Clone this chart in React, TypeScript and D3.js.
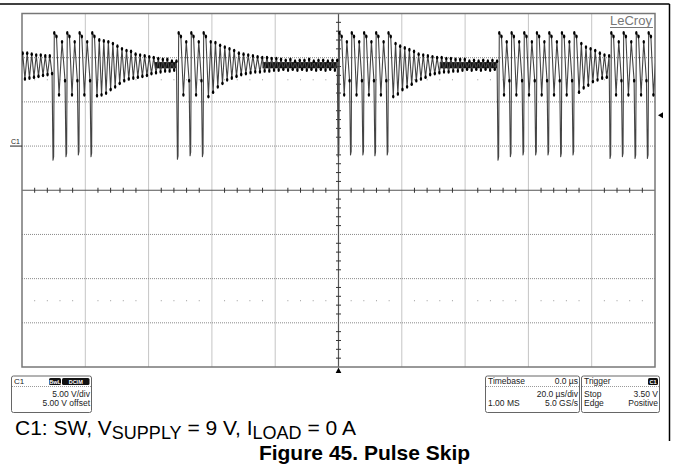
import React from "react";
import * as d3 from "d3";

const W = 673;
const H = 471;

// 10 div x 20 us/div, trigger (0 us) at screen centre
const timeDomain = [-100, 100];
// 8 div x 5 V/div, 5 V offset (ground one division above centre)
const voltDomain = [-25, 15];
const timeMajor = d3.range(-100, 101, 20);
const voltMajor = d3.range(-25, 16, 5);
const triggerLevel = 3.5;

// switching pulses (us), grouped in bursts
const burst1 = [-90.2, -86.1, -82.2, -78.2];
const burst2 = [-50.9, -46.9, -43.0];
const burst3 = [-0.1, 3.8, 7.7, 11.5, 15.4];
const burst4 = [50.4, 54.3, 58.3, 62.3, 66.2, 70.2, 74.1];
const burst5 = [85.8, 89.7, 93.7, 97.6];
// lowest value of each switching spike (V)
const low1 = [-1.6, -1.2, -1.0, -1.2];
const low2 = [-1.5, -1.1, -1.2];
const low3 = [-1.2, -1.0, -1.0, -1.1, -1.0];
const low4 = [-1.6, -1.2, -1.0, -1.0, -1.0, -1.2, -1.0];
const low5 = [-1.4, -1.2, -1.4, -1.4];
const pulseTop = 12.8;

// ringing between two pulses of a burst (dip, peak, dip) in V
const burstRing = [5.8, 11.8, 7.4];
// ringing extremes (V) before the first burst
const leadRing = [7.5, 10.5, 7.6, 10.5, 7.7, 10.4, 7.8, 10.3, 7.9, 10.3, 8.0, 10.2, 8.1, 10.2, 8.2];
// ringing extremes (V) after the last pulse of each burst
const tail1 = [5.7, 12.0, 5.8, 11.9, 6.0, 11.8, 6.4, 11.6, 6.7, 11.3, 7.1, 11.0, 7.4, 10.8, 7.6, 10.7, 7.7, 10.4, 7.8, 10.3, 7.9, 10.2, 8.0, 10.1, 8.2, 10.0, 8.3, 9.9, 8.4, 9.8, 8.5, 9.8, 8.5, 9.6, 8.6, 9.6];
const tail2 = [5.6, 11.8, 6.1, 11.7, 6.7, 11.4, 7.1, 11.2, 7.5, 11.0, 7.7, 10.8, 7.9, 10.5, 8.1, 10.4, 8.2, 10.3, 8.3, 10.2, 8.4, 10.1, 8.4, 10.0, 8.5, 10.0, 8.5, 9.9, 8.6, 9.9, 8.6, 9.8, 8.7, 9.7, 8.6, 9.8, 8.7, 9.6, 8.6, 9.7, 8.7, 9.7, 8.6, 9.8, 8.7, 9.6, 8.6, 9.7, 8.7, 9.7, 8.6, 9.6, 8.7, 9.7, 8.6, 9.7];
const tail3 = [5.6, 11.6, 5.9, 11.3, 6.4, 11.1, 6.7, 10.9, 7.0, 10.7, 7.4, 10.4, 7.6, 10.3, 7.8, 10.2, 8.1, 10.1, 8.2, 10.0, 8.3, 10.0, 8.4, 9.9, 8.4, 9.9, 8.5, 9.8, 8.5, 9.8, 8.6, 9.8, 8.7, 9.6, 8.6, 9.7, 8.7, 9.6, 8.6, 9.7, 8.7, 9.6, 8.6, 9.7, 8.7, 9.6];
const tail4 = [6.1, 11.6, 6.6, 11.2, 6.9, 11.0, 7.3, 10.8, 7.5, 10.5, 7.7, 10.3, 7.8, 10.2];
const tail5 = [5.8, 11.8, 7.0];

// idle stretches where fast noise fills a solid band (us, V)
const idleStart = [-58, -24, 32];
const idleEnd = [-51.2, -0.4, 50.1];
const idleLow = [8.8, 8.8, 8.8];
const idleHigh = [9.5, 9.5, 9.5];

const bursts = [burst1, burst2, burst3, burst4, burst5];
const lows = [low1, low2, low3, low4, low5];
const tails = [tail1, tail2, tail3, tail4, tail5];

const x = d3.scaleLinear().domain(timeDomain).range([22, 655]);
const y = d3.scaleLinear().domain(voltDomain).range([367, 13.5]);

type Pt = [number, number, boolean];

function buildTrace(): Pt[] {
  const pts: Pt[] = [];
  const pushRing = (vals: number[], t0: number, t1: number) => {
    const step = vals.length > 1 ? (t1 - t0) / (vals.length - 1) : 0;
    vals.forEach((v, k) => pts.push([t0 + k * step, v, true]));
  };
  pushRing(leadRing, timeDomain[0] - 0.5, burst1[0] - 0.3);
  bursts.forEach((b, bi) => {
    b.forEach((tp, i) => {
      const lo = lows[bi][i];
      pts.push([tp, lo, false]);
      pts.push([tp + 0.2, lo + 0.4, false]);
      pts.push([tp + 0.4, pulseTop, true]);
      pts.push([tp + 1.1, pulseTop - 0.4, true]);
      const last = i === b.length - 1;
      const next = last ? (bi < bursts.length - 1 ? bursts[bi + 1][0] : timeDomain[1] + 2) : b[i + 1];
      pushRing(last ? tails[bi] : burstRing, tp + 1.9, next - 0.3);
    });
  });
  return pts;
}

const font = "Arial, 'Liberation Sans', sans-serif";

export default function App() {
  const trace = buildTrace();
  const line = d3.line<Pt>().x((d) => x(d[0])).y((d) => y(d[1]));
  const [x0, x1] = x.range();
  const [y0, y1] = [y(voltDomain[1]), y(voltDomain[0])];
  const cx = x(0);
  const cy = y(-5);
  const minorT = d3.range(-100, 101, 4).filter((t) => t % 20 !== 0);
  const minorV = d3.range(-25, 16, 1).filter((v) => (v + 25) % 5 !== 0);
  const dotRows = [7.5, -17.5];
  const grey = "#8a8a8a";
  const gx = y(triggerLevel);

  return (
    <svg width={W} height={H} style={{ position: "absolute", left: 0, top: 0, background: "#fff" }} fontFamily={font}>
      <rect width={W} height={H} fill="#fff" />
      {/* figure frame */}
      <line x1={0} x2={669.5} y1={4} y2={4} stroke="#000" strokeWidth={1.5} />
      <line x1={669.5} x2={669.5} y1={4} y2={441} stroke="#000" strokeWidth={1.5} />

      <defs>
        <clipPath id="plot">
          <rect x={x0} y={y0} width={x1 - x0} height={y1 - y0} />
        </clipPath>
      </defs>

      {/* grid */}
      {timeMajor.slice(1, -1).filter((t) => t !== 0).map((t) => (
        <line key={"gx" + t} x1={x(t)} x2={x(t)} y1={y0} y2={y1} stroke={grey} strokeDasharray="1,1" />
      ))}
      {voltMajor.slice(1, -1).filter((v) => v !== -5).map((v) => (
        <line key={"gy" + v} x1={x0} x2={x1} y1={y(v)} y2={y(v)} stroke={grey} strokeDasharray="1,1" />
      ))}
      {dotRows.map((v) =>
        minorT.map((t) => <rect key={"d" + v + t} x={x(t) - 0.5} y={y(v) - 0.5} width={1} height={1} fill="#999" />)
      )}
      {/* centre axes with minor ticks */}
      <line x1={x0} x2={x1} y1={cy} y2={cy} stroke="#555" strokeWidth={1.2} />
      <line x1={cx} x2={cx} y1={y0} y2={y1} stroke="#555" strokeWidth={1.2} />
      {minorT.map((t) => (
        <line key={"tt" + t} x1={x(t)} x2={x(t)} y1={cy - 2.5} y2={cy + 2.5} stroke="#333" strokeWidth={1} />
      ))}
      {minorV.map((v) => (
        <line key={"tv" + v} x1={cx - 2.5} x2={cx + 2.5} y1={y(v)} y2={y(v)} stroke="#333" strokeWidth={1} />
      ))}
      <rect x={x0} y={y0} width={x1 - x0} height={y1 - y0} fill="none" stroke="#777" strokeWidth={1.5} />

      {/* trace */}
      <g clipPath="url(#plot)">
        {idleStart.map((t0, i) => (
          <rect key={"idle" + i} x={x(t0)} y={y(idleHigh[i])} width={x(idleEnd[i]) - x(t0)}
            height={y(idleLow[i]) - y(idleHigh[i])} fill="#111" />
        ))}
        <path d={line(trace) || ""} fill="none" stroke="#444" strokeWidth={1.1} strokeLinejoin="round" />
        {trace.filter((d) => d[2]).map((d, i) => (
          <ellipse key={"b" + i} cx={x(d[0])} cy={y(d[1])} rx={1.2} ry={1.9} fill="#000" />
        ))}
      </g>

      {/* LeCroy */}
      <text x={610} y={25} fontSize={13} fill="#777">LeCroy</text>
      <line x1={610} x2={653} y1={27.5} y2={27.5} stroke="#777" strokeWidth={1} />

      {/* channel ground marker */}
      <text x={11} y={y(0) - 2} fontSize={7} fill="#222">C1</text>
      <line x1={10} x2={x0} y1={y(0)} y2={y(0)} stroke="#222" strokeWidth={1} />

      {/* trigger level & position markers */}
      <path d={`M${x1 + 3},${gx} L${x1 + 8},${gx - 3} L${x1 + 8},${gx + 3} Z`} fill="#000" />
      <path d={`M${cx},${y1 + 0.5} L${cx - 2.8},${y1 + 6} L${cx + 2.8},${y1 + 6} Z`} fill="#000" />

      {/* C1 info box */}
      <g fontSize={8.5} fill="#222">
        <rect x={11.5} y={376} width={80} height={36.5} rx={2} fill="#fff" stroke="#666" />
        <line x1={12} x2={91} y1={386.5} y2={386.5} stroke="#999" strokeDasharray="1,1" />
        <text x={14} y={383.5} fontSize={8}>C1</text>
        <rect x={49} y={378} width={12} height={7} rx={1.5} fill="#111" />
        <text x={55} y={383.8} fontSize={5.5} fill="#fff" textAnchor="middle" fontWeight="bold">BwL</text>
        <rect x={62} y={378} width={27.5} height={7} rx={1.5} fill="#111" />
        <text x={75.7} y={383.8} fontSize={5.5} fill="#fff" textAnchor="middle" fontWeight="bold">DCIM</text>
        <text x={90} y={396.5} textAnchor="end">5.00 V/div</text>
        <text x={90} y={405.5} textAnchor="end">5.00 V offset</text>
      </g>

      {/* Timebase box */}
      <g fontSize={8.5} fill="#222">
        <rect x={485.5} y={376} width={94} height={36.5} rx={2} fill="#fff" stroke="#666" />
        <line x1={486} x2={579} y1={386.5} y2={386.5} stroke="#999" strokeDasharray="1,1" />
        <text x={488} y={383.5}>Timebase</text>
        <text x={578} y={383.5} textAnchor="end">0.0 µs</text>
        <text x={578} y={396.5} textAnchor="end">20.0 µs/div</text>
        <text x={488} y={405.5}>1.00 MS</text>
        <text x={578} y={405.5} textAnchor="end">5.0 GS/s</text>
      </g>

      {/* Trigger box */}
      <g fontSize={8.5} fill="#222">
        <rect x={581.5} y={376} width={78} height={36.5} rx={2} fill="#fff" stroke="#666" />
        <line x1={582} x2={659} y1={386.5} y2={386.5} stroke="#999" strokeDasharray="1,1" />
        <text x={584} y={383.5}>Trigger</text>
        <rect x={648} y={378} width={10} height={7} rx={1.5} fill="#111" />
        <text x={653} y={383.8} fontSize={5.5} fill="#fff" textAnchor="middle" fontWeight="bold">C1</text>
        <text x={584} y={396.5}>Stop</text>
        <text x={658} y={396.5} textAnchor="end">3.50 V</text>
        <text x={584} y={405.5}>Edge</text>
        <text x={658} y={405.5} textAnchor="end">Positive</text>
      </g>

      {/* captions */}
      <text x={15} y={435} fontSize={21} fill="#000">
        C1: SW, V<tspan fontSize={18} dy={4}>SUPPLY</tspan>
        <tspan dy={-4}> = 9 V, I</tspan>
        <tspan fontSize={18} dy={4}>LOAD</tspan>
        <tspan dy={-4}> = 0 A</tspan>
      </text>
      <text x={364.5} y={460} fontSize={21} fontWeight="bold" textAnchor="middle" fill="#000">
        Figure 45. Pulse Skip
      </text>
    </svg>
  );
}
